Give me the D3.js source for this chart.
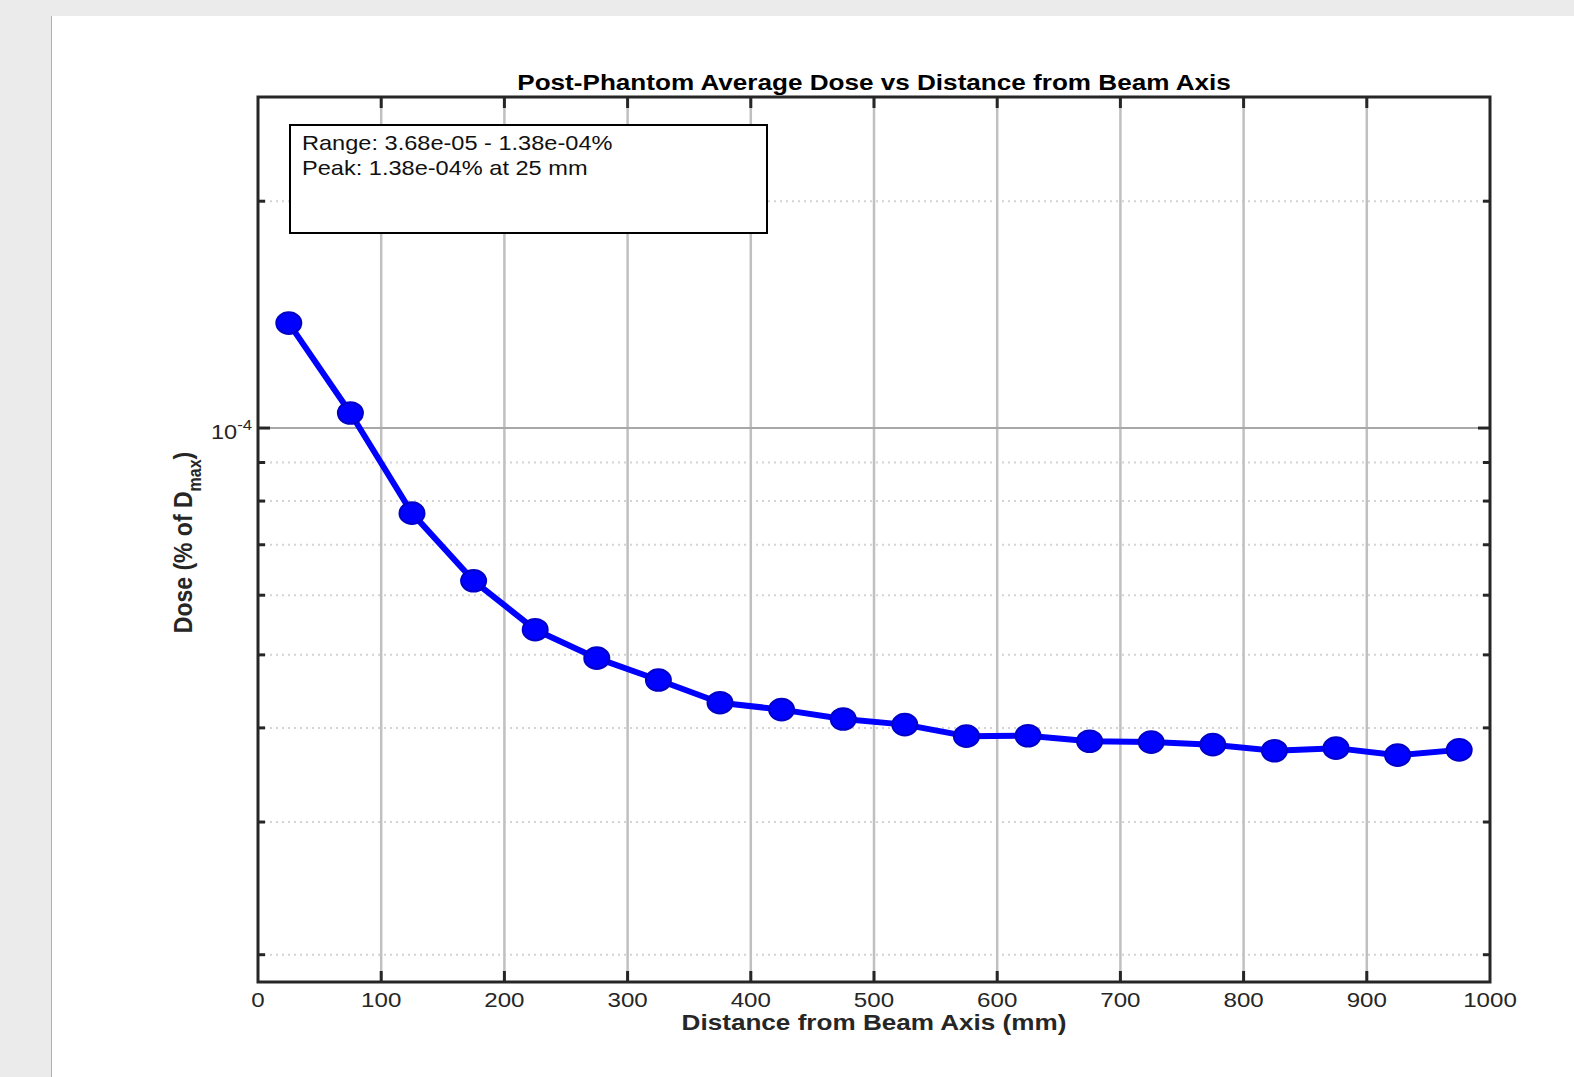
<!DOCTYPE html>
<html><head><meta charset="utf-8">
<script src="https://cdn.jsdelivr.net/npm/d3@7"></script>
<style>
html,body{margin:0;padding:0;background:#ebebeb;}
svg{display:block;}
text{font-family:"Liberation Sans",Arial,sans-serif;}
</style></head>
<body>
<svg id="chart" width="1574" height="1077"></svg>
<script>
const distances = [25,75,125,175,225,275,325,375,425,475,525,575,625,675,725,775,825,875,925,975];
const doses = [1.378e-4,1.047e-4,7.71e-5,6.27e-5,5.40e-5,4.95e-5,4.63e-5,4.32e-5,4.23e-5,4.11e-5,4.04e-5,3.90e-5,3.905e-5,3.84e-5,3.83e-5,3.80e-5,3.73e-5,3.76e-5,3.68e-5,3.74e-5];
const xTicks = [0,100,200,300,400,500,600,700,800,900,1000];
const yMajor = [1e-4];
const yMinor = [2e-5,3e-5,4e-5,5e-5,6e-5,7e-5,8e-5,9e-5,2e-4];
const titleText = "Post-Phantom Average Dose vs Distance from Beam Axis";
const xLabel = "Distance from Beam Axis (mm)";
const infoLines = ["Range: 3.68e-05 - 1.38e-04%","Peak: 1.38e-04% at 25 mm"];

const S = 1.15; // horizontal stretch of glyphs
const svg = d3.select("#chart");
svg.append("rect").attr("x",51).attr("y",16).attr("width",1574-51).attr("height",1077-16).attr("fill","#fff");
svg.append("line").attr("x1",51.5).attr("x2",51.5).attr("y1",16).attr("y2",1077).attr("stroke","#b0b0b0").attr("stroke-width",1);

const L=258, R=1490, T=97, B=982;
const x = d3.scaleLinear().domain([0,1000]).range([L,R]);
const y = d3.scaleLog().domain([1.84e-5,2.75e-4]).range([B,T]);

function txt(parent, px, py, extra){
  return parent.append("text").attr("transform",`translate(${px},${py}) scale(${S},1)${extra||""}`);
}

const g = svg.append("g");
g.selectAll(".ymin").data(yMinor).enter().append("line")
 .attr("x1",L).attr("x2",R).attr("y1",d=>y(d)).attr("y2",d=>y(d))
 .attr("stroke","#d4d4d4").attr("stroke-width",2).attr("stroke-dasharray","2,4");
g.selectAll(".xg").data(xTicks.slice(1,-1)).enter().append("line")
 .attr("x1",d=>x(d)).attr("x2",d=>x(d)).attr("y1",T).attr("y2",B)
 .attr("stroke","#c0c0c0").attr("stroke-width",2.5);
g.selectAll(".ymaj").data(yMajor).enter().append("line")
 .attr("x1",L).attr("x2",R).attr("y1",d=>y(d)).attr("y2",d=>y(d))
 .attr("stroke","#a8a8a8").attr("stroke-width",2);

const tc="#262626";
xTicks.slice(1,-1).forEach(d=>{
  g.append("line").attr("x1",x(d)).attr("x2",x(d)).attr("y1",B).attr("y2",B-11).attr("stroke",tc).attr("stroke-width",3);
  g.append("line").attr("x1",x(d)).attr("x2",x(d)).attr("y1",T).attr("y2",T+11).attr("stroke",tc).attr("stroke-width",3);
});
yMajor.forEach(d=>{
  g.append("line").attr("x1",L).attr("x2",L+12).attr("y1",y(d)).attr("y2",y(d)).attr("stroke",tc).attr("stroke-width",3);
  g.append("line").attr("x1",R).attr("x2",R-12).attr("y1",y(d)).attr("y2",y(d)).attr("stroke",tc).attr("stroke-width",3);
});
yMinor.forEach(d=>{
  g.append("line").attr("x1",L).attr("x2",L+7).attr("y1",y(d)).attr("y2",y(d)).attr("stroke",tc).attr("stroke-width",3);
  g.append("line").attr("x1",R).attr("x2",R-7).attr("y1",y(d)).attr("y2",y(d)).attr("stroke",tc).attr("stroke-width",3);
});

g.append("rect").attr("x",L).attr("y",T).attr("width",R-L).attr("height",B-T)
 .attr("fill","none").attr("stroke",tc).attr("stroke-width",3);

xTicks.forEach(d=>{
  txt(g, x(d), 1007).attr("text-anchor","middle").attr("font-size",21).attr("fill","#262626").text(d);
});

yMajor.forEach(d=>{
  const t = txt(g, L-6, y(d)+11).attr("text-anchor","end").attr("font-size",20.5).attr("fill","#262626");
  t.append("tspan").text("10");
  t.append("tspan").attr("dy",-9).attr("font-size",14.5).text(Math.round(Math.log10(d)));
});

txt(svg,(L+R)/2,90).attr("text-anchor","middle")
 .attr("font-size",22.7).attr("font-weight","bold").attr("fill","#000").text(titleText);
txt(svg,(L+R)/2,1030).attr("text-anchor","middle")
 .attr("font-size",22.7).attr("font-weight","bold").attr("fill","#262626").text(xLabel);
const yl = svg.append("text").attr("transform",`translate(192,${(T+B)/2+3}) scale(${S},1) rotate(-90)`)
 .attr("text-anchor","middle").attr("font-size",23).attr("font-weight","bold").attr("fill","#262626");
yl.append("tspan").text("Dose (% of D");
yl.append("tspan").attr("dy",8).attr("font-size",16).text("max");
yl.append("tspan").attr("dy",-8).text(")");

const pts = distances.map((d,i)=>[d,doses[i]]);
g.append("path").datum(pts)
 .attr("d",d3.line().x(d=>x(d[0])).y(d=>y(d[1])))
 .attr("fill","none").attr("stroke","#0000ff").attr("stroke-width",6).attr("stroke-linejoin","round");
g.selectAll(".mk").data(pts).enter().append("ellipse")
 .attr("cx",d=>x(d[0])).attr("cy",d=>y(d[1])).attr("rx",12.5).attr("ry",10.8)
 .attr("fill","#0000ff").attr("stroke","#0000c8").attr("stroke-width",2);

svg.append("rect").attr("x",290).attr("y",125).attr("width",477).attr("height",108)
 .attr("fill","#fff").attr("stroke","#000").attr("stroke-width",2);
infoLines.forEach((s,i)=>{
  txt(svg,302,150+i*24.5).attr("font-size",20.5).attr("fill","#111").text(s);
});
</script>
</body></html>
